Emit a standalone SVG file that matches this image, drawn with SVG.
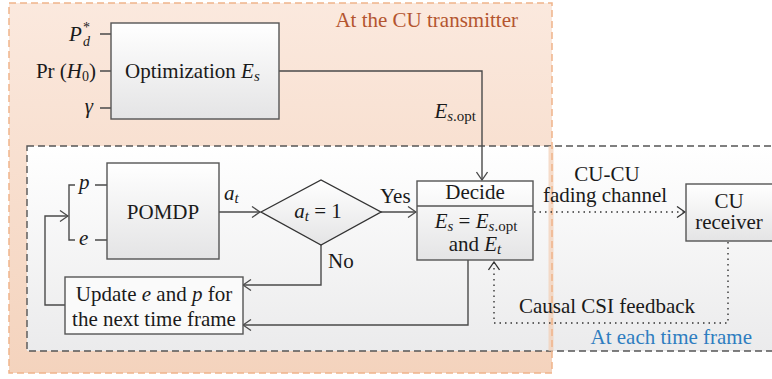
<svg xmlns="http://www.w3.org/2000/svg" width="772" height="379" viewBox="0 0 772 379">
<defs>
<linearGradient id="gOrange" x1="0" y1="0" x2="0" y2="1">
<stop offset="0" stop-color="#fbe9de"/>
<stop offset="1" stop-color="#f4d3bd"/>
</linearGradient>
<linearGradient id="gInner" x1="0" y1="0" x2="0" y2="1">
<stop offset="0" stop-color="#ffffff"/>
<stop offset="1" stop-color="#ebebec"/>
</linearGradient>
<linearGradient id="gBox" x1="0" y1="0" x2="0" y2="1">
<stop offset="0" stop-color="#ffffff"/>
<stop offset="1" stop-color="#e4e4e5"/>
</linearGradient>
<marker id="arr" viewBox="0 0 10 12" refX="9" refY="6" markerWidth="10" markerHeight="12" markerUnits="userSpaceOnUse" orient="auto">
<polyline points="1,0.5 9,6 1,11.5" fill="none" stroke="#4a4a4a" stroke-width="1.3"/>
</marker>
<marker id="arrD" viewBox="0 0 10 12" refX="9" refY="6" markerWidth="10" markerHeight="12" markerUnits="userSpaceOnUse" orient="auto">
<polyline points="1,0.5 9,6 1,11.5" fill="none" stroke="#333" stroke-width="1.3"/>
</marker>
</defs>
<style>
text{font-family:"Liberation Serif","Times New Roman",serif;font-size:21px;fill:#1a1a1a}
.i{font-style:italic}
.box{stroke:#555;stroke-width:1.4;fill:url(#gBox)}
.ln{fill:none;stroke:#4a4a4a;stroke-width:1.4}
.dot{fill:none;stroke:#333;stroke-width:1.4;stroke-dasharray:1.5 4}
.mid{text-anchor:middle}
.end{text-anchor:end}
</style>

<g id="transmitter-region">
<rect x="9" y="3" width="543" height="370" fill="url(#gOrange)"/>
</g>
<g id="time-frame-region">
<rect x="27" y="146" width="760" height="205" fill="url(#gInner)" stroke="#555" stroke-width="1.4" stroke-dasharray="7 4"/>
</g>
<g id="transmitter-border">
<line x1="551" y1="146" x2="551" y2="351" stroke="#f4cfb5" stroke-width="5" opacity="0.7"/>
<rect x="9" y="3" width="543" height="370" fill="none" stroke="#f0b48a" stroke-width="1.5" stroke-dasharray="7 4"/>
<text x="518" y="27" class="end" style="fill:#b4552f">At the CU transmitter</text>
</g>

<g id="connectors">
<path class="ln" d="M100,34 H111 M100,71 H111 M100,108 H111"/>
<path class="ln" d="M279,71 H482 V180" marker-end="url(#arr)"/>
<path class="ln" d="M75,185 H69 V240 H75 M95,185 H107 M95,240 H107"/>
<path class="ln" d="M219,212 H260" marker-end="url(#arr)"/>
<path class="ln" d="M381,212 H416" marker-end="url(#arr)"/>
<path class="ln" d="M321,245 V285 H243" marker-end="url(#arr)"/>
<path class="ln" d="M468,260 V325 H243" marker-end="url(#arr)"/>
<path class="ln" d="M65,305 H45 V216 H68" marker-end="url(#arr)"/>
<path class="dot" d="M534,212 H685" marker-end="url(#arrD)"/>
<path class="dot" d="M728,242 V323 H494 V262" marker-end="url(#arrD)"/>
</g>

<g id="inputs">
<text x="69" y="41"><tspan class="i">P</tspan><tspan class="i" font-size="14" x="83" dy="5">d</tspan><tspan font-size="14" x="83" dy="-14">*</tspan></text>
<text x="96" y="78" class="end">Pr (<tspan class="i">H</tspan><tspan font-size="14" dy="3">0</tspan><tspan dy="-3">)</tspan></text>
<text x="93" y="113" class="end i">γ</text>
</g>

<g id="optimization">
<rect class="box" x="111" y="23" width="168" height="96"/>
<text x="125" y="78">Optimization <tspan class="i">E</tspan><tspan class="i" font-size="15" dy="3">s</tspan></text>
</g>

<g id="es-opt-label">
<text x="476" y="118" class="end"><tspan class="i">E</tspan><tspan font-size="15" dy="3"><tspan class="i">s</tspan>.opt</tspan></text>
</g>

<g id="bracket-labels">
<text x="79" y="189" class="i">p</text>
<text x="79" y="245" class="i">e</text>
</g>

<g id="pomdp">
<rect class="box" x="107" y="163" width="112" height="96"/>
<text x="163" y="219" class="mid">POMDP</text>
<text x="224" y="200" class="i">a<tspan font-size="15" dy="3">t</tspan></text>
</g>

<g id="decision">
<polygon points="261,212 321,180 381,212 321,245" fill="url(#gBox)" stroke="#333" stroke-width="1.4"/>
<text x="318" y="218" class="mid"><tspan class="i">a</tspan><tspan class="i" font-size="15" dy="3">t</tspan><tspan dy="-3"> = 1</tspan></text>
<text x="380" y="203">Yes</text>
<text x="328" y="268">No</text>
</g>

<g id="decide">
<rect class="box" x="417" y="181" width="116" height="79"/>
<line x1="417" y1="206" x2="533" y2="206" stroke="#555" stroke-width="1.4"/>
<text x="475" y="199" class="mid">Decide</text>
<text x="476" y="228" class="mid"><tspan class="i">E</tspan><tspan class="i" font-size="15" dy="3">s</tspan><tspan dy="-3"> = </tspan><tspan class="i">E</tspan><tspan font-size="15" dy="3"><tspan class="i">s</tspan>.opt</tspan><tspan x="475" dy="20">and </tspan><tspan class="i">E</tspan><tspan class="i" font-size="15" dy="3">t</tspan></text>
</g>

<g id="update">
<rect class="box" x="65" y="277" width="178" height="57" style="fill:#fafafa"/>
<text x="154" y="301" class="mid">Update <tspan class="i">e</tspan> and <tspan class="i">p</tspan> for<tspan x="154" dy="25">the next time frame</tspan></text>
</g>

<g id="channel-label">
<text x="607" y="181" class="mid">CU-CU<tspan x="605" dy="21">fading channel</tspan></text>
</g>

<g id="receiver">
<rect class="box" x="686" y="184" width="90" height="57"/>
<text x="729" y="208" class="mid">CU<tspan x="729" dy="21">receiver</tspan></text>
</g>

<g id="feedback-label">
<text x="607" y="313" class="mid">Causal CSI feedback</text>
</g>

<g id="time-frame-label">
<text x="752" y="344" class="end" style="fill:#2e7dc0">At each time frame</text>
</g>
</svg>
